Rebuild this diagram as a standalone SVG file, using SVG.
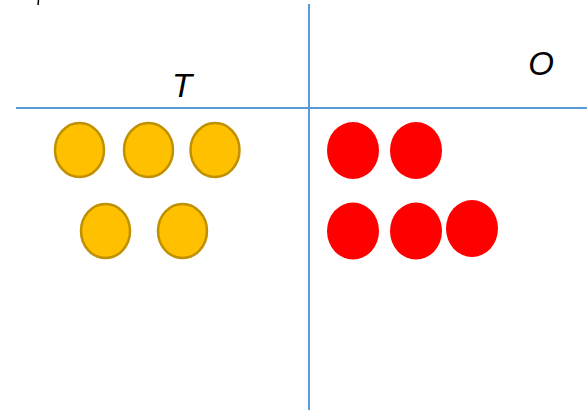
<svg xmlns="http://www.w3.org/2000/svg" width="587" height="410" viewBox="0 0 587 410">
<style>
.lbl{font-family:"Liberation Sans",Arial,sans-serif;font-style:italic;font-size:33px;fill:#000}
.ten{fill:#FFC000;stroke:#BF9000;stroke-width:2.5}
.one{fill:#FF0000}
.rule{stroke:#5B9BD5;stroke-width:2;fill:none}
</style>
<rect width="587" height="410" fill="#fff"/>
<g id="connectors">
<line class="rule" x1="309" y1="4" x2="309" y2="410"/>
<line class="rule" x1="16" y1="108" x2="587" y2="108"/>
</g>
<line x1="38.5" y1="0" x2="38" y2="5" stroke="#000" stroke-width="1.5"/>
<g id="label-T"><text class="lbl" x="182" y="97" text-anchor="middle">T</text></g>
<g id="label-O"><text class="lbl" x="541" y="75" text-anchor="middle">O</text></g>
<g id="tens">
<ellipse id="t1" class="ten" cx="79.5" cy="150" rx="24.5" ry="27"/>
<ellipse id="t2" class="ten" cx="148.5" cy="150" rx="24.5" ry="27"/>
<ellipse id="t3" class="ten" cx="215" cy="150" rx="24.5" ry="27"/>
<ellipse id="t4" class="ten" cx="105.5" cy="231" rx="24.5" ry="27"/>
<ellipse id="t5" class="ten" cx="182.5" cy="231" rx="24.5" ry="27"/>
</g>
<g id="ones">
<ellipse id="o1" class="one" cx="353" cy="150.5" rx="26" ry="28.5"/>
<ellipse id="o2" class="one" cx="416" cy="150.5" rx="26" ry="28.5"/>
<ellipse id="o3" class="one" cx="353" cy="231" rx="26" ry="28.5"/>
<ellipse id="o4" class="one" cx="416" cy="231" rx="26" ry="28.5"/>
<ellipse id="o5" class="one" cx="472" cy="228.5" rx="26" ry="28.5"/>
</g>
</svg>
